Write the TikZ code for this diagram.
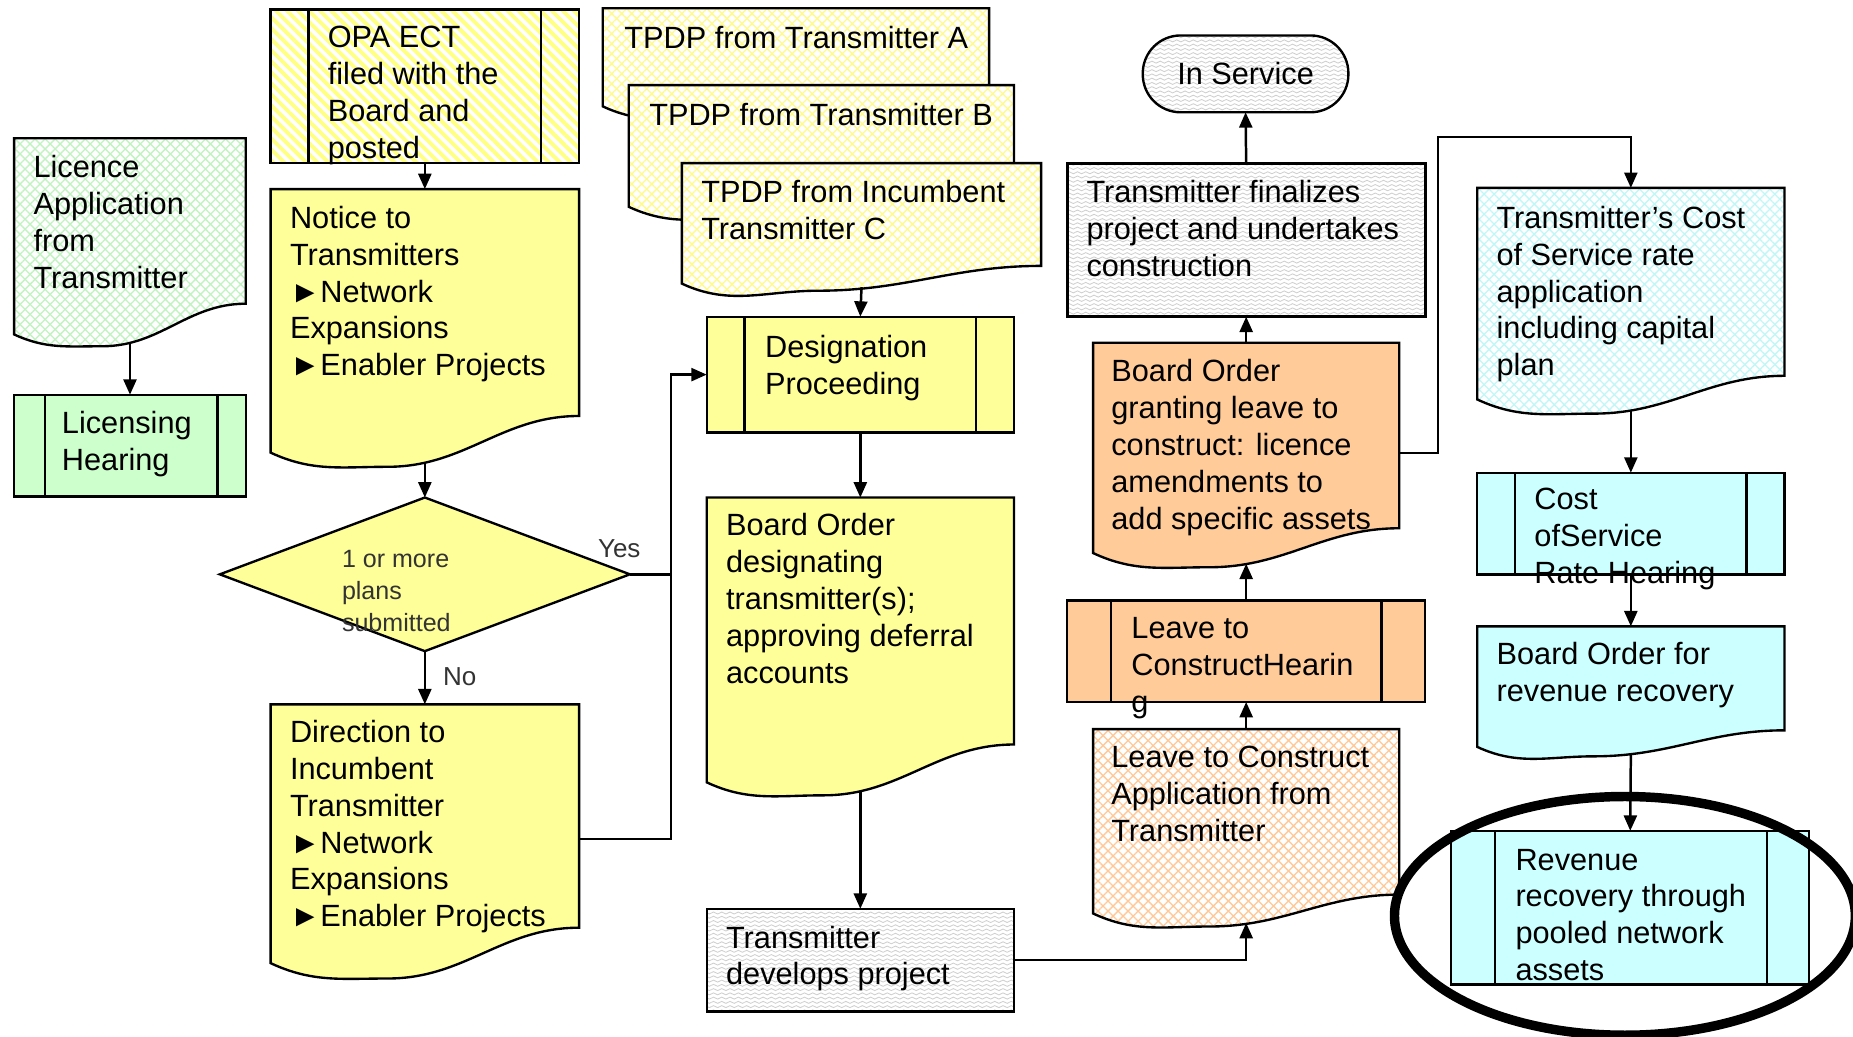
\documentclass[tikz,border=0pt]{standalone}
\usepackage{fontspec}
\setmainfont{Liberation Sans}
\usetikzlibrary{arrows.meta,patterns,patterns.meta,fit,shapes.geometric}

\definecolor{ylwfill}{HTML}{FFFF99}
\definecolor{grnfill}{HTML}{CCFFCC}
\definecolor{orgfill}{HTML}{FFCC99}
\definecolor{cynfill}{HTML}{CCFFFF}
\definecolor{ylwline}{HTML}{FFFA8C}
\definecolor{grnline}{HTML}{C2F2C2}
\definecolor{orgline}{HTML}{FFC896}
\definecolor{cynline}{HTML}{C2F7F7}
\definecolor{stripeylw}{HTML}{FFFF80}
\definecolor{wavegray}{HTML}{CFCFCF}
\definecolor{labelgray}{HTML}{333333}

% fine wavy texture used for the grey process boxes
\pgfdeclarepatternformonly{wavy}{\pgfqpoint{-0.3pt}{-0.9pt}}{\pgfqpoint{3.8pt}{0.9pt}}{\pgfqpoint{3.5pt}{1.8pt}}{%
  \pgfsetlinewidth{0.35pt}%
  \pgfpathmoveto{\pgfqpoint{0pt}{0pt}}%
  \pgfpathcurveto{\pgfqpoint{0.6pt}{0.55pt}}{\pgfqpoint{1.15pt}{0.55pt}}{\pgfqpoint{1.75pt}{0pt}}%
  \pgfpathcurveto{\pgfqpoint{2.35pt}{-0.55pt}}{\pgfqpoint{2.9pt}{-0.55pt}}{\pgfqpoint{3.5pt}{0pt}}%
  \pgfusepath{stroke}%
}

% document outline: style, x0, top, x1, right end of wave, left end of wave, dip
\newcommand\docshape[7]{%
  \pgfmathsetmacro\docdx{#2+0.38*(#4-#2)}%
  \pgfmathsetmacro\docdy{-(#6+#7)}%
  \draw[#1] (#2,-#3) -- (#4,-#3) -- (#4,-#5) to[out=180,in=0] (\docdx,\docdy) to[out=180,in=-25] (#2,-#6) -- cycle;}
\newcommand\mainsize{\fontsize{13}{15.6}\selectfont}
\newcommand\smallsize{\fontsize{10.6}{13.5}\selectfont}

\tikzset{
  edge/.style={draw=black, line width=1pt},
  frame/.style={inner sep=0pt, outer sep=0pt},
  conn/.style={draw=black, line width=1.05pt},
  arr/.style={conn, -{Triangle[length=6.5pt,width=5.5pt]}},
  txt/.style={anchor=north west, inner sep=0pt, align=left, font=\mainsize},
  lbl/.style={inner sep=0pt, font=\fontsize{11}{13}\selectfont, text=labelgray},
  hatchfill/.style={preaction={fill=white}, pattern={Hatch[angle=45,distance=3pt,line width=0.55pt]}, pattern color=#1},
  wavefill/.style={preaction={fill=white}, pattern=wavy, pattern color=wavegray},
  stripefill/.style={preaction={fill=white}, pattern={Lines[angle=-45,distance=3.3pt,line width=1.6pt]}, pattern color=stripeylw},
}

\begin{document}
\begin{tikzpicture}[x=0.5pt,y=0.5pt]
\useasboundingbox (0,0) rectangle (1568,-877);
\fill[white] (0,0) rectangle (1568,-877);

% ---- stacked transmitter plans
\docshape{edge, hatchfill=ylwline}{510}{7}{837}{80}{90}{5}
\docshape{edge, hatchfill=ylwline}{532}{72}{858}{160}{175}{6}
\docshape{edge, hatchfill=ylwline}{577}{138}{881}{225}{240}{6}
\node[frame, fit={(510,-7) (837,-85)}] (tpdpA) {};
\node[frame, fit={(532,-72) (858,-170)}] (tpdpB) {};
\node[frame, fit={(577,-138) (881,-243)}] (tpdpC) {};

% ---- licensing branch
\docshape{edge, hatchfill=grnline}{12}{117}{208}{257}{283}{10}
\node[frame, fit={(12,-117) (208,-289)}] (licence) {};
\node[frame, edge, fill=grnfill, fit={(12,-334) (208,-420)}] (lhear) {};
\draw[edge] (38,-334) -- (38,-420) (184,-334) -- (184,-420);

% ---- notice and decision
\node[frame, edge, stripefill, fit={(229,-8) (490,-138)}] (opa) {};
\draw[edge] (261,-8) -- (261,-138) (458,-8) -- (458,-138);
\docshape{edge, fill=ylwfill}{229}{160}{490}{352}{383}{12}
\node[frame, fit={(229,-160) (490,-391)}] (notice) {};
\node[frame, fit={(186,-421) (533,-551)}] (plans) {};
\draw[edge, fill=ylwfill] (plans.west) -- (plans.north) -- (plans.east) -- (plans.south) -- cycle;
\docshape{edge, fill=ylwfill}{229}{596}{490}{785}{815}{13}
\node[frame, fit={(229,-596) (490,-824)}] (direction) {};

% ---- designation column
\node[frame, edge, fill=ylwfill, fit={(598,-268) (858,-366)}] (desig) {};
\draw[edge] (630,-268) -- (630,-366) (826,-268) -- (826,-366);
\docshape{edge, fill=ylwfill}{598}{421}{858}{630}{662}{11}
\node[frame, fit={(598,-421) (858,-669)}] (bdes) {};
\node[frame, edge, wavefill, fit={(598,-769) (858,-856)}] (develop) {};

% ---- leave to construct column
\node[frame, edge, wavefill, rounded corners=16pt, fit={(967,-30) (1141,-95)}] (inservice) {};
\node[frame, edge, line width=1.3pt, wavefill, fit={(903,-138) (1206,-268)}] (final) {};
\docshape{edge, fill=orgfill}{925}{290}{1184}{447}{468}{12}
\node[frame, fit={(925,-290) (1184,-477)}] (bgrant) {};
\node[frame, edge, fill=orgfill, fit={(903,-508) (1206,-594)}] (lhearing) {};
\draw[edge] (940,-508) -- (940,-594) (1169,-508) -- (1169,-594);
\docshape{edge, hatchfill=orgline}{925}{617}{1184}{757}{773}{11}
\node[frame, fit={(925,-617) (1184,-781)}] (lapp) {};

% ---- rate recovery column
\docshape{edge, hatchfill=cynline}{1250}{159}{1510}{318}{338}{12}
\node[frame, fit={(1250,-159) (1510,-347)}] (trcost) {};
\node[frame, edge, fill=cynfill, fit={(1250,-400) (1510,-486)}] (costh) {};
\draw[edge] (1282,-400) -- (1282,-486) (1478,-400) -- (1478,-486);
\docshape{edge, fill=cynfill}{1250}{530}{1510}{618}{632}{8}
\node[frame, fit={(1250,-530) (1510,-638)}] (brev) {};
\node[frame, edge, fill=cynfill, fit={(1228,-703) (1531,-833)}] (revenue) {};
\draw[edge] (1265,-703) -- (1265,-833) (1495,-703) -- (1495,-833);

% ---- connectors
\coordinate (bus) at (568,-486);
\coordinate (riser) at (1217,-116);
\draw[arr] (licence.south) -- (lhear.north);
\draw[arr] (opa.south) -- (notice.north);
\draw[arr] (notice.south) -- (plans.north);
\draw[arr] (plans.south) -- (direction.north);
\draw[conn] (plans.east) -- (bus);
\draw[conn] (direction.east) -| (bus);
\draw[arr] (bus) |- (desig.west);
\draw[arr] (tpdpC.south) -- (desig.north);
\draw[arr] (desig.south) -- (bdes.north);
\draw[arr] (bdes.south) -- (develop.north);
\draw[arr] (develop.east) -| (lapp.south);
\draw[arr] (lapp.north) -- (lhearing.south);
\draw[arr] (lhearing.north) -- (bgrant.south);
\draw[arr] (bgrant.north) -- (final.south);
\draw[arr] (final.north) -- (inservice.south);
\draw[arr] (bgrant.east) -| (riser) -| (trcost.north);
\draw[arr] (trcost.south) -- (costh.north);
\draw[arr] (costh.south) -- (brev.north);
\draw[arr] (brev.south) -- (revenue.north);

% ---- texts
\node[lbl] (yes) at (524,-464) {Yes};
\node[lbl] (no) at (389,-573) {No};
\node[txt] (licence-t) at (28,-131) {Licence\\Application\\from\\Transmitter};
\node[txt] (lhear-t) at (52,-348) {Licensing\\Hearing};
\node[txt] (opa-t) at (277,-22) {OPA ECT\\filed with the\\Board and\\posted};
\node[txt] (notice-t) at (245,-174) {Notice to\\Transmitters\\►Network\\Expansions\\►Enabler Projects};
\node[txt, font=\smallsize, text=labelgray] (plans-t) at (289,-465) {1 or more\\plans\\submitted};
\node[txt] (direction-t) at (245,-609) {Direction to\\Incumbent\\Transmitter\\►Network\\Expansions\\►Enabler Projects};
\node[txt] (tpdpA-t) at (528,-22) {TPDP from Transmitter A};
\node[txt] (tpdpB-t) at (549,-87) {TPDP from Transmitter B};
\node[txt] (tpdpC-t) at (593,-152) {TPDP from Incumbent\\Transmitter C};
\node[txt] (desig-t) at (647,-283) {Designation\\Proceeding};
\node[txt] (bdes-t) at (614,-434) {Board Order\\designating\\transmitter(s);\\approving deferral\\accounts};
\node[txt] (develop-t) at (614,-783) {Transmitter\\develops project};
\node[txt, anchor=center] (inservice-t) at (inservice) {In Service};
\node[txt] (final-t) at (919,-152) {Transmitter finalizes\\project and undertakes\\construction};
\node[txt] (bgrant-t) at (940,-304) {Board Order\\granting leave to\\construct: licence\\amendments to\\add specific assets};
\node[txt] (lhearing-t) at (957,-522) {Leave to\\ConstructHearin\\g};
\node[txt] (lapp-t) at (940,-631) {Leave to Construct\\Application from\\Transmitter};
\node[txt] (trcost-t) at (1266,-174) {Transmitter’s Cost\\of Service rate\\application\\including capital\\plan};
\node[txt] (costh-t) at (1298,-413) {Cost\\ofService\\Rate Hearing};
\node[txt] (brev-t) at (1266,-543) {Board Order for\\revenue recovery};
\node[txt] (revenue-t) at (1282,-718) {Revenue\\recovery through\\pooled network\\assets};

% ---- highlight ring
\node[draw, ellipse, line width=4pt, minimum width=195pt, minimum height=101pt, inner sep=0pt] (focus) at (1375,-775) {};
\end{tikzpicture}
\end{document}
